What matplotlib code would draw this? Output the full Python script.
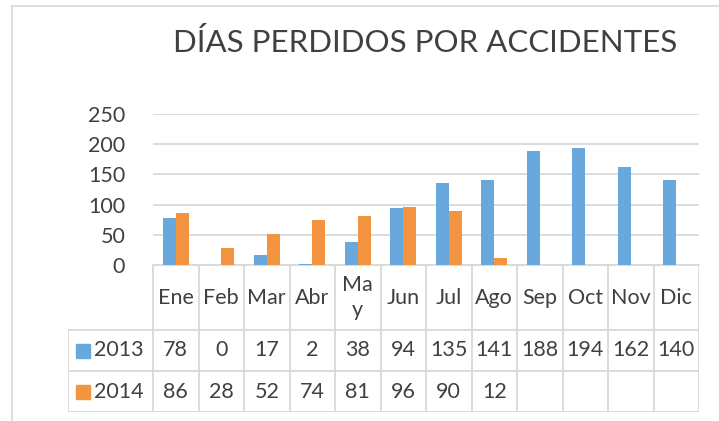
import matplotlib
matplotlib.use("Agg")
import matplotlib.pyplot as plt
import numpy as np
from matplotlib.lines import Line2D
from matplotlib.patches import Rectangle

plt.rcParams['font.family'] = ['Lato', 'DejaVu Sans']

months = ["Ene", "Feb", "Mar", "Abr", "Ma\ny", "Jun", "Jul", "Ago", "Sep", "Oct", "Nov", "Dic"]
series_names = ["2013", "2014"]
values_2013 = [78, 0, 17, 2, 38, 94, 135, 141, 188, 194, 162, 140]
values_2014 = [86, 28, 52, 74, 81, 96, 90, 12, None, None, None, None]
yticks = [0, 50, 100, 150, 200, 250]
title = "DÍAS PERDIDOS POR ACCIDENTES"

blue = "#68A8DD"
orange = "#F39440"
grid_c = "#D9D9D9"
text_c = "#404040"

W, H = 719, 421
fig = plt.figure(figsize=(W / 100, H / 100), dpi=100)

# outer frame lines
fig.add_artist(Line2D([12 / W, 12 / W], [0, 1 - 6 / H], color=grid_c, lw=1.2))
fig.add_artist(Line2D([12 / W, 1], [1 - 6 / H, 1 - 6 / H], color=grid_c, lw=1.2))

# plot area
px_l, px_r, px_b, px_t = 153, 699, 265, 114
ax = fig.add_axes([px_l / W, (H - px_b) / H, (px_r - px_l) / W, (px_b - px_t) / H])
n = len(months)
x = np.arange(n)
bw = 0.286
v13 = np.array(values_2013, dtype=float)
v14 = np.array([np.nan if v is None else v for v in values_2014], dtype=float)
ax.bar(x - bw / 2, v13, bw, color=blue, zorder=3)
ax.bar(x + bw / 2, np.nan_to_num(v14), bw, color=orange, zorder=3)
ax.set_xlim(-0.5, n - 0.5)
ax.set_ylim(0, 250)
ax.set_yticks(yticks)
fs = 15.5
ax.set_yticklabels([str(t) for t in yticks], fontsize=fs, color=text_c)
ax.tick_params(axis='y', length=0, pad=20)
ax.tick_params(axis='x', length=0, labelbottom=False)
ax.set_xticks([])
for s in ["top", "right", "left"]:
    ax.spines[s].set_visible(False)
ax.spines["bottom"].set_color(grid_c)
ax.spines["bottom"].set_linewidth(1.3)
ax.yaxis.grid(True, color=grid_c, lw=1.3, zorder=0)
ax.set_axisbelow(True)
ax.patch.set_alpha(0)

# data table
cw = (px_r - px_l) / n
tbl_l, tbl_b = 68, 412
tax = fig.add_axes([tbl_l / W, (H - tbl_b) / H, (px_r - tbl_l) / W, (tbl_b - px_b) / H])
x_left = -0.5 - (px_l - tbl_l) / cw
tax.set_xlim(x_left, n - 0.5)
tax.set_ylim(0, tbl_b - px_b)
tax.axis('off')
top = tbl_b - px_b
r1 = tbl_b - 330
r2 = tbl_b - 371
lkw = dict(color=grid_c, lw=1.3, solid_capstyle='butt')
# horizontal lines
tax.plot([x_left, n - 0.5], [r1, r1], **lkw)
tax.plot([x_left, n - 0.5], [r2, r2], **lkw)
tax.plot([x_left, n - 0.5], [0, 0], **lkw)
# vertical lines
for b in np.arange(n + 1) - 0.5:
    tax.plot([b, b], [0, top], **lkw)
tax.plot([x_left, x_left], [0, r1], **lkw)

for i, m in enumerate(months):
    tax.text(i, (top + r1) / 2, m, ha='center', va='center', fontsize=fs,
             color=text_c, linespacing=1.35)
    tax.text(i, (r1 + r2) / 2, str(values_2013[i]), ha='center', va='center',
             fontsize=fs, color=text_c)
    if values_2014[i] is not None:
        tax.text(i, r2 / 2, str(values_2014[i]), ha='center', va='center',
                 fontsize=fs, color=text_c)

# legend keys in table
sq = 14 / cw
for name, col, yc in [(series_names[0], blue, (r1 + r2) / 2), (series_names[1], orange, r2 / 2)]:
    xs = x_left + (76 - tbl_l) / cw
    tax.add_patch(Rectangle((xs, yc - 7), sq, 14, color=col, clip_on=False))
    tax.text(xs + sq + 4 / cw, yc, name, ha='left', va='center', fontsize=fs, color=text_c)

fig.text(425 / W, 1 - 42 / H, title, ha='center', va='center', fontsize=22.5, color=text_c)

fig.savefig("out.png", dpi=100)
